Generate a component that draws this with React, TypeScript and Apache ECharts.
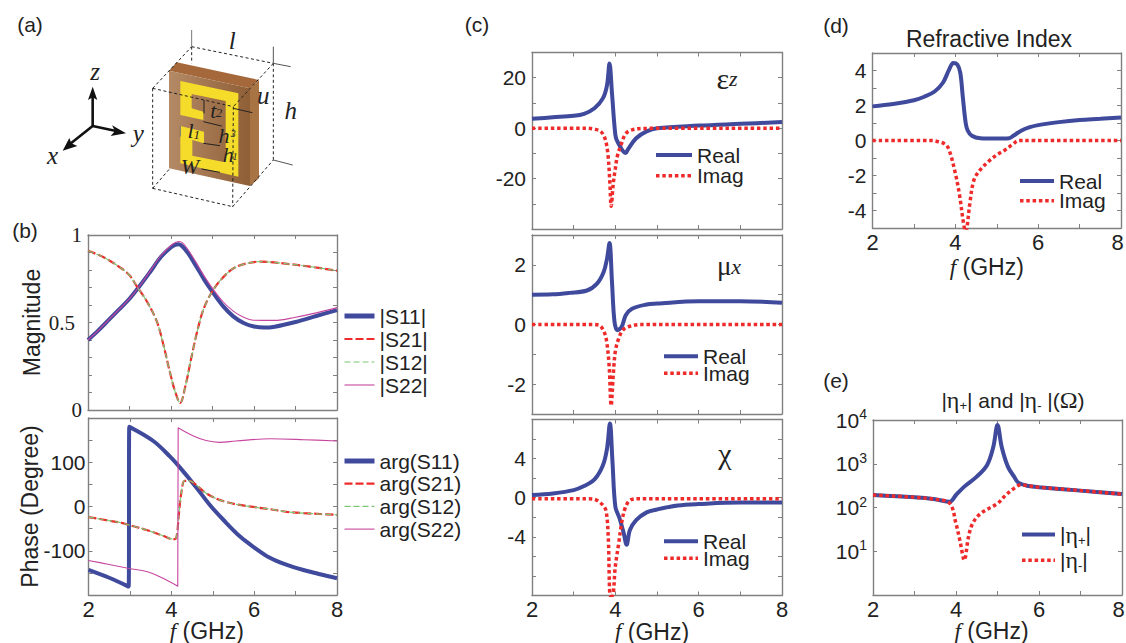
import React, { useEffect, useRef } from "react";
import * as echarts from "echarts";

const SANS = "Liberation Sans";
const SERIF = "Liberation Serif";
const BLUE = "#3f4a9c";
const RED = "#ee2a2a";
const GREEN = "#7cc576";
const MAGENTA = "#c7479f";
const FRAME = "#808080";

// (b) magnitude
const s11F = [2, 2.25, 2.5, 2.75, 3, 3.25, 3.5, 3.75, 4, 4.1, 4.18, 4.25, 4.4, 4.6, 4.8, 5, 5.25, 5.5, 5.75, 6, 6.25, 6.5, 7, 7.5, 8];
const s11Mag = [0.4, 0.455, 0.515, 0.575, 0.636, 0.71, 0.79, 0.873, 0.93, 0.944, 0.947, 0.94, 0.9, 0.825, 0.745, 0.675, 0.595, 0.535, 0.497, 0.477, 0.471, 0.476, 0.503, 0.537, 0.571];
const s22F = [2, 2.25, 2.5, 2.75, 3, 3.25, 3.5, 3.75, 4, 4.12, 4.2, 4.28, 4.4, 4.6, 4.8, 5, 5.25, 5.5, 5.75, 6, 6.5, 7, 7.5, 8];
const s22Mag = [0.4, 0.455, 0.515, 0.575, 0.636, 0.71, 0.795, 0.88, 0.94, 0.958, 0.963, 0.955, 0.92, 0.845, 0.765, 0.695, 0.62, 0.565, 0.53, 0.513, 0.512, 0.53, 0.555, 0.585];
const s21F = [2, 2.4, 2.8, 3, 3.18, 3.42, 3.66, 3.82, 3.98, 4.1, 4.22, 4.35, 4.47, 4.63, 4.79, 5, 5.23, 5.51, 5.83, 6.15, 6.7, 7.35, 8];
const s21Mag = [0.91, 0.87, 0.81, 0.77, 0.705, 0.62, 0.505, 0.37, 0.21, 0.105, 0.04, 0.14, 0.276, 0.448, 0.58, 0.68, 0.752, 0.81, 0.838, 0.848, 0.838, 0.819, 0.796];
const s12Mag = [0.91, 0.87, 0.81, 0.77, 0.705, 0.62, 0.505, 0.37, 0.21, 0.105, 0.04, 0.14, 0.276, 0.448, 0.58, 0.68, 0.752, 0.81, 0.838, 0.848, 0.838, 0.819, 0.796];

// (b) phase
const a11F = [2, 2.5, 2.97, 2.985, 3.565, 3.97, 4.21, 4.57, 4.93, 5.26, 5.66, 5.98, 6.38, 6.79, 7.19, 7.59, 8];
const a11Deg = [-143, -161, -181, 180, 148, 112.6, 87.8, 47, 3.4, -30.5, -68, -91, -116, -132, -143.5, -153, -162];
const a21F = [2, 2.5, 2.8, 2.985, 3.4, 3.8, 4.04, 4.12, 4.18, 4.24, 4.32, 4.44, 4.57, 4.84, 5.16, 5.56, 5.98, 6.38, 6.79, 7.2, 7.6, 8];
const a21Deg = [-24, -32, -37, -42, -53, -66, -74, -70.5, -19, 30, 58, 58, 51, 30, 15, 5, -1, -6, -12, -15, -17, -19];
const a12Deg = [-24, -32, -37, -42, -53, -66, -74, -70.5, -19, 30, 58, 58, 51, 30, 15, 5, -1, -6, -12, -15, -17, -19];
const a22F = [2, 2.5, 2.985, 3.4, 3.8, 4.155, 4.165, 4.52, 4.84, 5.16, 5.56, 6.38, 7.2, 8];
const a22Deg = [-122, -131, -140, -147, -162, -180, 178, 160, 149, 145, 148, 153, 151, 148];

// (c) epsilon z
const epF = [2, 2.5, 3, 3.25, 3.5, 3.7, 3.8, 3.86, 3.92, 4, 4.05, 4.25, 4.3, 4.5, 4.75, 5, 6, 7, 8];
const epRe = [3.7, 4.3, 4.9, 5.7, 7.9, 11.8, 17, 25.6, 13.8, -2.6, -5.3, -9.9, -8.5, -4, -1.3, 0, 1, 1.7, 2.4];
const epImF = [2, 3.3, 3.5, 3.65, 3.75, 3.82, 3.87, 3.9, 3.95, 4, 4.05, 4.15, 4.25, 4.4, 4.7, 8];
const epIm = [0, 0, -0.4, -1.3, -4, -10, -22, -31, -22, -16, -11, -6, -2.2, -0.7, -0.1, 0];

// (c) mu x
const muF = [2, 2.5, 2.9, 3.32, 3.56, 3.72, 3.8, 3.86, 3.92, 3.98, 4.05, 4.15, 4.25, 4.4, 4.75, 5, 6, 7, 8];
const muRe = [1, 1.01, 1.06, 1.14, 1.37, 1.76, 2.2, 2.73, 1.42, 0.09, -0.19, -0.08, 0.31, 0.53, 0.67, 0.7, 0.78, 0.78, 0.73];
const muImF = [2, 3.4, 3.6, 3.7, 3.78, 3.85, 3.9, 3.95, 4, 4.08, 4.2, 4.4, 4.6, 8];
const muIm = [0, 0, -0.02, -0.16, -0.47, -1.36, -2.72, -1.7, -0.9, -0.47, -0.16, -0.04, 0, 0];

// (c) chi
const chiF = [2, 2.5, 3, 3.25, 3.5, 3.7, 3.8, 3.87, 3.93, 4, 4.1, 4.2, 4.27, 4.35, 4.5, 4.75, 5, 5.5, 6, 7, 8];
const chiRe = [0.27, 0.44, 0.78, 1.19, 1.87, 3.3, 5, 7.6, 3.8, -0.9, -2.1, -3.6, -4.8, -3.3, -2.3, -1.5, -1.2, -0.8, -0.65, -0.5, -0.5];
const chiImF = [2, 3.3, 3.5, 3.7, 3.78, 3.83, 3.88, 3.93, 4, 4.08, 4.15, 4.22, 4.3, 4.4, 4.6, 8];
const chiIm = [-0.1, -0.1, -0.17, -0.75, -1.4, -4, -10, -10, -7, -4.7, -2.6, -1.26, -0.5, -0.17, -0.1, -0.1];

// (d) refractive index
const nF = [2, 2.5, 3, 3.25, 3.5, 3.7, 3.85, 3.95, 4.05, 4.12, 4.18, 4.25, 4.3, 4.4, 4.6, 5, 5.3, 5.4, 5.6, 5.8, 6, 6.5, 7, 7.5, 8];
const nRe = [1.95, 2.08, 2.3, 2.5, 2.8, 3.3, 4.05, 4.43, 4.34, 3.86, 2.5, 1, 0.57, 0.27, 0.13, 0.11, 0.13, 0.27, 0.57, 0.76, 0.88, 1.05, 1.17, 1.24, 1.32];
const nImF = [2, 3.4, 3.5, 3.75, 3.85, 4, 4.1, 4.2, 4.25, 4.28, 4.35, 4.45, 4.6, 4.8, 5, 5.2, 5.4, 5.5, 5.6, 8];
const nIm = [0, 0, -0.02, -0.2, -0.54, -1.87, -3.1, -4.75, -5.2, -5, -3.6, -2.25, -1.68, -1.2, -0.82, -0.54, -0.19, -0.02, 0, 0];

// (e) impedance
const etaPF = [2, 3, 3.5, 3.85, 4, 4.2, 4.5, 4.75, 4.9, 5, 5.1, 5.25, 5.4, 5.5, 5.75, 6, 7, 8];
const etaP = [193, 171, 154, 136, 193, 300, 507, 940, 2455, 7690, 2455, 860, 507, 370, 310, 290, 243, 203];
const etaMF = [2, 3, 3.5, 3.85, 4, 4.1, 4.2, 4.3, 4.4, 4.6, 5, 5.2, 5.4, 5.55, 6, 7, 8];
const etaM = [193, 171, 154, 124, 43, 16.5, 6.3, 21, 43, 74, 124, 193, 274, 327, 290, 243, 203];

// tick labels
const xTickLabels = [2, 4, 6, 8];
const magTicks = [0, 0.5, 1];
const phaseTicks = [-100, 0, 100];
const epTicks = [-20, 0, 20];
const muTicks = [-2, 0, 2];
const chiTicks = [-4, 0, 4];
const nTicks = [-4, -2, 0, 2, 4];
const etaTicks = [10, 100, 1000, 10000];

const zip = (f: number[], v: number[]) => f.map((x, i) => [x, v[i]]);
const has = (list: number[], v: number) => list.some((t) => Math.abs(t - v) < 1e-6);

type Panel = {
  box: [number, number, number, number];
  yMin: number; yMax: number; yStep?: number; log?: boolean;
  yFormatter: (v: number) => string; yRich?: any;
  showX: boolean; xNameGap?: number; xNameShift?: number; xLastShift?: boolean;
  yName?: string; yNameGap?: number; yMargin?: number;
};

const tickStyle = { show: true, inside: true, length: 4, lineStyle: { color: FRAME, width: 1 } };
const lineAxis = { show: true, onZero: false, lineStyle: { color: FRAME, width: 1.4 } };

const panels: Panel[] = [
  { box: [88, 337, 235, 410], yMin: 0, yMax: 1, yStep: 0.1, showX: false, yName: "Magnitude", yNameGap: 45,
    yFormatter: (v) => (has(magTicks, v) ? (Math.abs(v - 0.5) < 1e-6 ? "{t|0.5}{p|}" : `{t|${v}}`) : ""),
    yRich: { t: { fontFamily: SERIF, fontSize: 21, color: "#222" }, p: { width: 7 } } },
  { box: [88.5, 337, 418, 595], yMin: -200, yMax: 200, yStep: 50, showX: true, xNameGap: 26, xNameShift: 6, yName: "Phase (Degree)", yNameGap: 47, yMargin: 3,
    yFormatter: (v) => (has(phaseTicks, v) ? String(v) : "") },
  { box: [532, 782, 52.5, 229], yMin: -40, yMax: 30, yStep: 10, showX: false, yFormatter: (v) => (has(epTicks, v) ? String(v) : "") },
  { box: [532, 782, 235, 414], yMin: -3, yMax: 3, yStep: 1, showX: false, yFormatter: (v) => (has(muTicks, v) ? String(v) : "") },
  { box: [532, 782, 419.5, 595.5], yMin: -10, yMax: 8, yStep: 2, showX: true, xNameGap: 26, xNameShift: 5, yFormatter: (v) => (has(chiTicks, v) ? String(v) : "") },
  { box: [872.5, 1121, 53, 228], yMin: -5, yMax: 5, yStep: 1, showX: true, xNameGap: 29, xNameShift: 10, xLastShift: true, yFormatter: (v) => (has(nTicks, v) ? String(v) : "") },
  { box: [873, 1122, 420, 595], yMin: 1, yMax: 10000, log: true, showX: true, xNameGap: 26, xNameShift: 6, xLastShift: true,
    yFormatter: (v) => (has(etaTicks, v) ? `{t|10}{e|${Math.round(Math.log10(v))}}` : ""),
    yRich: { t: { fontFamily: SANS, fontSize: 21, color: "#222" }, e: { fontFamily: SANS, fontSize: 14, color: "#222", verticalAlign: "top", lineHeight: 26 } } },
];

const SMOOTH = 0.35;
const THICK = 4;
const DOT = 3.5;
const DASHED = 2.2;
const THIN_DASH = 1.2;
const HAIR = 1.1;
const thick = (name: string, data: number[][], xi: number) => ({
  name, type: "line", data, xAxisIndex: xi, yAxisIndex: xi, symbol: "none", smooth: SMOOTH,
  color: BLUE, lineStyle: { color: BLUE, width: THICK }, z: 2,
});
const dotted = (name: string, data: number[][], xi: number) => ({
  name, type: "line", data, xAxisIndex: xi, yAxisIndex: xi, symbol: "none", smooth: SMOOTH,
  color: RED, lineStyle: { color: RED, width: DOT, type: [3.5, 2.8] }, z: 3,
});
const styled = (name: string, data: number[][], xi: number, color: string, width: number, dash?: number[]) => ({
  name, type: "line", data, xAxisIndex: xi, yAxisIndex: xi, symbol: "none", smooth: SMOOTH,
  color, lineStyle: { color, width, type: dash ?? "solid" }, z: 3,
});

const series = [
  thick("|S11|", zip(s11F, s11Mag), 0),
  styled("|S21|", zip(s21F, s21Mag), 0, RED, DASHED, [8, 3]),
  styled("|S12|", zip(s21F, s12Mag), 0, GREEN, THIN_DASH, [6, 3]),
  styled("|S22|", zip(s22F, s22Mag), 0, MAGENTA, HAIR),
  thick("arg(S11)", zip(a11F, a11Deg), 1),
  styled("arg(S21)", zip(a21F, a21Deg), 1, RED, DASHED, [8, 3]),
  styled("arg(S12)", zip(a21F, a12Deg), 1, GREEN, THIN_DASH, [6, 3]),
  styled("arg(S22)", zip(a22F, a22Deg), 1, MAGENTA, HAIR),
  thick("Real", zip(epF, epRe), 2),
  dotted("Imag", zip(epImF, epIm), 2),
  thick("Real", zip(muF, muRe), 3),
  dotted("Imag", zip(muImF, muIm), 3),
  thick("Real", zip(chiF, chiRe), 4),
  dotted("Imag", zip(chiImF, chiIm), 4),
  thick("Real", zip(nF, nRe), 5),
  dotted("Imag", zip(nImF, nIm), 5),
  thick("|η+|", zip(etaPF, etaP), 6),
  dotted("|η-|", zip(etaMF, etaM), 6),
];

const ROW = 21;
const item = (name: string, width: number) => ({ name, lineStyle: { width } });
const legendAt = (left: number, firstRowY: number, spacing: number, width: number, names: any[], extra: any = {}) => ({
  show: true, orient: "vertical", left, top: firstRowY - ROW / 2, padding: 0,
  itemStyle: { opacity: 0 },
  itemWidth: width, itemHeight: 14, itemGap: spacing - ROW, data: names,
  selectedMode: false, align: "left",
  textStyle: { fontFamily: SANS, fontSize: 21, color: "#222" },
  ...extra,
});
const reIm = () => [item("Real", THICK), item("Imag", DOT)];

const legends = [
  legendAt(342, 316, 23, 30, [item("|S11|", THICK + 1), item("|S21|", DASHED), item("|S12|", THIN_DASH), item("|S22|", HAIR)]),
  legendAt(342, 461, 22.7, 30, [item("arg(S11)", THICK + 1), item("arg(S21)", DASHED), item("arg(S12)", THIN_DASH), item("arg(S22)", HAIR)]),
  legendAt(654, 155, 20.7, 36, reIm()),
  legendAt(662, 356.3, 17, 34, reIm()),
  legendAt(662, 541.3, 17, 34, reIm()),
  legendAt(1018, 181, 19.7, 34, reIm()),
  legendAt(1020, 533, 22.7, 33, [item("|η+|", THICK), item("|η-|", DOT)], {
    formatter: (n: string) => (n.includes("+") ? "|{g|η}{s|+}|" : "|{g|η}{s|-}|"),
    textStyle: {
      fontFamily: SANS, fontSize: 21, color: "#222",
      rich: {
        g: { fontFamily: SERIF, fontSize: 24, color: "#222" },
        s: { fontFamily: SANS, fontSize: 13, color: "#222", verticalAlign: "bottom" },
      },
    },
  }),
];

const z3 = (x: number, y: number) => [x / 3, y / 3];
const pts = (list: number[][]) => list.map(([x, y]) => z3(x, y));
const seg = (a: number[], b: number[], stroke = "#222", lineWidth = 1, dash?: number[]) => ({
  type: "line", silent: true,
  shape: { x1: a[0] / 3, y1: a[1] / 3, x2: b[0] / 3, y2: b[1] / 3 },
  style: { stroke, lineWidth, lineDash: dash },
});
const poly = (list: number[][], fill: any) => ({ type: "polygon", silent: true, shape: { points: pts(list) }, style: { fill } });
const txt = (text: string, x: number, y: number, font: string, extra: any = {}) => ({
  type: "text", silent: true, x, y,
  style: { text, font, fill: "#222", align: "center", verticalAlign: "middle", ...extra },
});
const lab = (t: string, x: number, y: number) => txt(t, x, y, `21px ${SANS}`);
const ital = (t: string, zx: number, zy: number, size = 22) => txt(t, zx / 3, zy / 3, `italic ${size}px ${SERIF}`);
const DASH = [3, 2.5];

const cell: any[] = [
  seg([458, 565], [510, 505], "#222", 1, DASH),
  seg([575, 140], [575, 190], "#222", 1, DASH),
  poly([[507, 212], [530, 187], [777, 240], [750, 265]], "#a5683a"),
  poly([[750, 265], [777, 240], [777, 535], [750, 558]], "#a87443"),
  { type: "polygon", silent: true, shape: { points: pts([[507, 212], [750, 265], [750, 558], [507, 505]]) },
    style: { fill: new echarts.graphic.LinearGradient(0, 0, 1, 0, [{ offset: 0, color: "#b48a66" }, { offset: 1, color: "#8f5f36" }]) } },
  poly([[541, 243], [715, 280], [715, 530], [541, 490], [541, 378], [612, 395], [612, 430], [577, 420], [577, 467], [667, 485], [677, 485], [677, 303], [575, 282], [575, 325], [610, 335], [610, 360], [541, 345]], "#f6dc2a"),
  seg([458, 265], [575, 140], "#222", 1, DASH),
  seg([575, 140], [820, 190], "#222", 1, DASH),
  seg([820, 190], [700, 320], "#222", 1, DASH),
  seg([458, 265], [700, 320], "#222", 1, DASH),
  seg([458, 265], [458, 565], "#222", 1, DASH),
  seg([458, 565], [698, 620], "#222", 1, DASH),
  seg([698, 620], [820, 480], "#222", 1, DASH),
  seg([700, 320], [698, 620], "#222", 1, DASH),
  seg([820, 190], [820, 480], "#222", 1, DASH),
  seg([575, 90], [575, 140], "#777"),
  seg([820, 140], [820, 190], "#555"),
  seg([820, 190], [872, 200], "#555"),
  seg([820, 480], [878, 495], "#555"),
  seg([700, 325], [757, 338]),
  seg([610, 365], [665, 378]),
  seg([610, 430], [660, 437]),
  seg([605, 507], [660, 517]),
  seg([612, 300], [612, 340]),
  seg([541, 378], [541, 410], "#777"),
  seg([278, 378], [278, 285], "#111", 2.6),
  seg([278, 378], [352, 394], "#111", 2.6),
  seg([278, 378], [210, 432], "#111", 2.6),
  poly([[278, 260], [264, 300], [278, 292], [292, 300]], "#111"),
  poly([[378, 400], [336, 376], [345, 393], [332, 408]], "#111"),
  poly([[188, 452], [208, 414], [214, 430], [232, 438]], "#111"),
  ital("l", 697, 122, 25), ital("z", 285, 213, 25), ital("y", 415, 400, 25), ital("x", 158, 465, 25),
  ital("u", 790, 285, 25), ital("h", 872, 330, 25),
  ital("t", 640, 330), ital("2", 657, 338, 13),
  ital("l", 572, 392), ital("1", 590, 402, 13),
  ital("h", 672, 405), ital("3", 700, 400, 10),
  ital("h", 685, 462), ital("1", 705, 470, 10),
  ital("W", 570, 500),
];

const graphicEls: any[] = [
  lab("(a)", 30, 24), lab("(b)", 25, 230), lab("(c)", 477, 24), lab("(d)", 836, 25), lab("(e)", 836, 380),
  ...cell,
  { type: "text", silent: true, x: 727, y: 78,
    style: { text: "{a|ε}{b|z}", align: "center", verticalAlign: "middle", rich: {
      a: { font: `30px ${SERIF}`, fill: "#222" }, b: { font: `italic 22px ${SERIF}`, fill: "#222" } } } },
  { type: "text", silent: true, x: 729, y: 266,
    style: { text: "{a|μ}{b|x}", align: "center", verticalAlign: "middle", rich: {
      a: { font: `27px ${SERIF}`, fill: "#222" }, b: { font: `italic 22px ${SERIF}`, fill: "#222" } } } },
  txt("χ", 725, 453, `30px ${SERIF}`),
];

const option: any = {
  animation: false,
  backgroundColor: "#fff",
  textStyle: { fontFamily: SANS },
  title: [
    { text: "Refractive Index", left: 989, top: 27, textAlign: "center", padding: 0,
      textStyle: { fontFamily: SANS, fontSize: 23, fontWeight: "normal", color: "#222" } },
    { text: "|{g|η}{s|+}| and |{g|η}{s|-} |({g|Ω})", left: 1013, top: 388, textAlign: "center", padding: 0,
      textStyle: { fontFamily: SANS, fontSize: 21, fontWeight: "normal", color: "#222",
        rich: { g: { fontFamily: SERIF, fontSize: 24, color: "#222" },
          s: { fontFamily: SANS, fontSize: 13, color: "#222", verticalAlign: "bottom" } } } },
  ],
  grid: panels.map((p) => ({ left: p.box[0], top: p.box[2], width: p.box[1] - p.box[0], height: p.box[3] - p.box[2], outerBoundsMode: "none", show: false })),
  xAxis: [
    ...panels.map((p, i) => ({
      type: "value", gridIndex: i, min: 2, max: 8, interval: 1, position: "bottom",
      axisLine: lineAxis, axisTick: tickStyle, splitLine: { show: false },
      axisLabel: { show: p.showX, margin: 3, fontFamily: SANS, fontSize: 22, color: "#222",
        formatter: (v: number) => (has(xTickLabels, v) ? (p.xLastShift && v === 8 ? "{r|8}" : String(v)) : ""),
        rich: { r: { fontFamily: SANS, fontSize: 22, color: "#222", padding: [0, 7, 0, 0] } } },
      ...(p.xNameGap ? { name: "{i|f} (GHz)", nameLocation: "middle", nameGap: p.xNameGap, nameMoveOverlap: false,
        nameTextStyle: { fontFamily: SANS, fontSize: 23, color: "#222", lineHeight: 20, padding: [0, (p.xNameShift ?? 0) * 2, 0, 0],
          rich: { i: { fontFamily: SERIF, fontStyle: "italic", fontSize: 23, color: "#222", lineHeight: 20 } } } } : {}),
    })),
    ...panels.map((p, i) => ({
      type: "value", gridIndex: i, min: 2, max: 8, interval: 1, position: "top",
      axisLine: lineAxis, axisTick: tickStyle, splitLine: { show: false }, axisLabel: { show: false },
    })),
  ],
  yAxis: [
    ...panels.map((p, i) => ({
      type: p.log ? "log" : "value", gridIndex: i, min: p.yMin, max: p.yMax, position: "left",
      ...(p.log ? { logBase: 10 } : { interval: p.yStep }),
      axisLine: lineAxis, axisTick: tickStyle, splitLine: { show: false },
      axisLabel: { margin: p.yMargin ?? 6, fontFamily: SANS, fontSize: 21, color: "#222", formatter: p.yFormatter, rich: p.yRich },
      ...(p.yName ? { name: p.yName, nameLocation: "middle", nameGap: p.yNameGap, nameMoveOverlap: false,
        nameTextStyle: { fontFamily: SANS, fontSize: 23, color: "#222" } } : {}),
    })),
    ...panels.map((p, i) => ({
      type: p.log ? "log" : "value", gridIndex: i, min: p.yMin, max: p.yMax, position: "right",
      ...(p.log ? { logBase: 10 } : { interval: p.yStep }),
      axisLine: lineAxis, axisTick: tickStyle, splitLine: { show: false }, axisLabel: { show: false },
    })),
  ],
  legend: legends,
  series,
  graphic: { elements: graphicEls },
};

export default function App() {
  const ref = useRef<HTMLDivElement>(null);
  useEffect(() => {
    const chart = echarts.init(ref.current!, undefined, { renderer: "svg" });
    chart.setOption(option);
    return () => chart.dispose();
  }, []);
  return <div ref={ref} style={{ position: "absolute", left: 0, top: 0, width: 1126, height: 643 }} />;
}
